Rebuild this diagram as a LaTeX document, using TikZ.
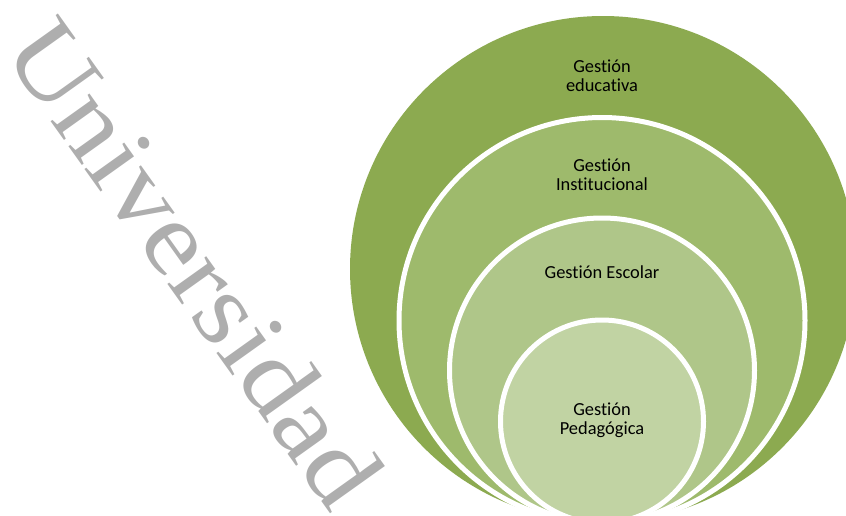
\documentclass[tikz,border=0pt]{standalone}
\usepackage{fontspec}
\setmainfont{Carlito}[Ligatures=NoCommon, RawFeature={-liga;-clig}]
\newfontfamily\wmfont{Liberation Serif}
\definecolor{ringA}{HTML}{8CAA50}
\definecolor{ringB}{HTML}{9EBA6C}
\definecolor{ringC}{HTML}{AFC689}
\definecolor{ringD}{HTML}{C1D3A3}
\definecolor{wmgray}{HTML}{AEAEAE}
\tikzset{
  ringlabel/.style={inner sep=0pt, anchor=base, font=\fontsize{18.4}{19.6}\selectfont, text=black},
  ringline/.style={draw=white, line width=5pt}
}
\begin{document}
\begin{tikzpicture}[x=1pt,y=-1pt]
\useasboundingbox (0,0) rectangle (846,515);
% watermark
\node[inner sep=0pt, anchor=base west, rotate=-54.5, text=wmgray, font=\wmfont\fontsize{104}{104}\selectfont] (wm) at (1,51) {\scalebox{1.12}[1]{Universidad}};
% nested circles
\fill[ringA] (603,269) circle (253);
\filldraw[fill=ringB, ringline] (602,320.5) circle (203);
\filldraw[fill=ringC, ringline] (602,370.5) circle (152.5);
\filldraw[fill=ringD, ringline] (602,421.5) circle (101.5);
% labels
\node[ringlabel] (edu) at (602,72.3) {\begin{tabular}[t]{@{}c@{}}Gestión\\educativa\end{tabular}};
\node[ringlabel] (inst) at (602,171) {\begin{tabular}[t]{@{}c@{}}Gestión\\Institucional\end{tabular}};
\node[ringlabel] (esc) at (602,278.3) {Gestión Escolar};
\node[ringlabel] (ped) at (602,415) {\begin{tabular}[t]{@{}c@{}}Gestión\\Pedagógica\end{tabular}};
\end{tikzpicture}
\end{document}
